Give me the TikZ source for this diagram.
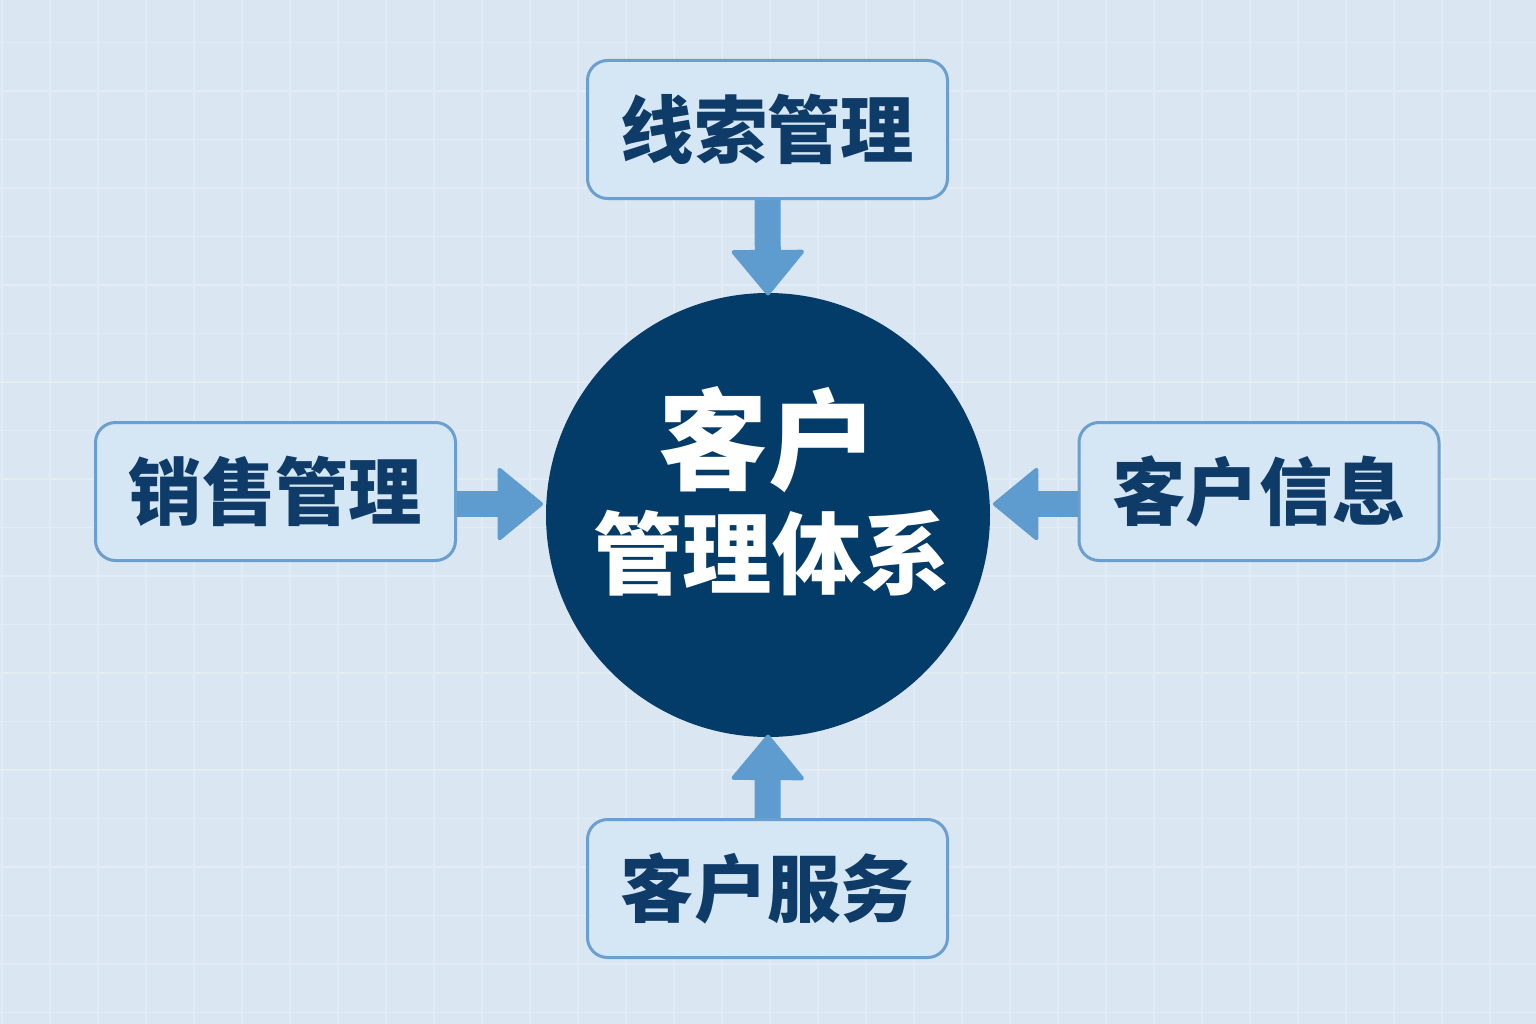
\documentclass[tikz,border=0pt]{standalone}
\usepackage{fontspec}
\newfontfamily\cjk{Noto Sans CJK SC}
\usetikzlibrary{arrows.meta}
\definecolor{bgc}{HTML}{DAE6F1}
\definecolor{gridc}{HTML}{E3ECF5}
\definecolor{boxfill}{HTML}{D5E6F4}
\definecolor{boxline}{HTML}{6A9FD0}
\definecolor{navy}{HTML}{0E3B67}
\definecolor{circfill}{HTML}{033B69}
\definecolor{arrowc}{HTML}{5E9BCF}
\tikzset{
  modbox/.style={draw=boxline, line width=2.25pt, fill=boxfill, rounded corners=15pt,
    minimum width=270pt, minimum height=103.5pt, inner sep=0pt,
    text=navy, font=\cjk\bfseries\fontsize{55}{60}\selectfont},
  hub/.style={circle, fill=circfill, minimum size=333pt, inner sep=0pt},
  hubtext/.style={text=white, inner sep=0pt, font=\cjk\bfseries},
  conn/.style={draw=arrowc, line width=19.5pt,
    -{Triangle[width=57pt,length=35pt,round,line width=3pt,color=arrowc]}},
}
\begin{document}
\begin{tikzpicture}[x=0.75pt,y=-0.75pt]
\fill[bgc] (0,0) rectangle (1536,1024);
\useasboundingbox (0,0) rectangle (1536,1024);
\foreach \i in {0,...,31} {\draw[gridc, line width=1.3pt] ({2+48*\i},0) -- ({2+48*\i},1024);}
\foreach \j in {0,...,21} {\draw[gridc, line width=1.3pt] (0,{-6+48.5*\j}) -- (1536,{-6+48.5*\j});}

\node[hub] (c) at (768,515) {};
\node[hubtext, font=\cjk\bfseries\fontsize{82}{90}\selectfont] (c1) at (768,440) {客户};
\node[hubtext, font=\cjk\bfseries\fontsize{67}{72}\selectfont] (c2) at (772,553) {管理体系};

\node[modbox] (t) at (767.5,129.5) {线索管理};
\node[modbox] (l) at (275.5,491.5) {销售管理};
\node[modbox] (r) at (1259,491.5) {客户信息};
\node[modbox] (b) at (767.5,888.5) {客户服务};

\draw[conn] (t.south) -- ([yshift=-2pt]c.north);
\draw[conn] ([yshift=-9.4pt]l.east) coordinate (la) -- ([xshift=-2pt]la -| c.west);
\draw[conn] ([yshift=-9.4pt]r.west) coordinate (ra) -- ([xshift=2pt]ra -| c.east);
\draw[conn] (b.north) -- ([yshift=2pt]c.south);
\end{tikzpicture}
\end{document}
